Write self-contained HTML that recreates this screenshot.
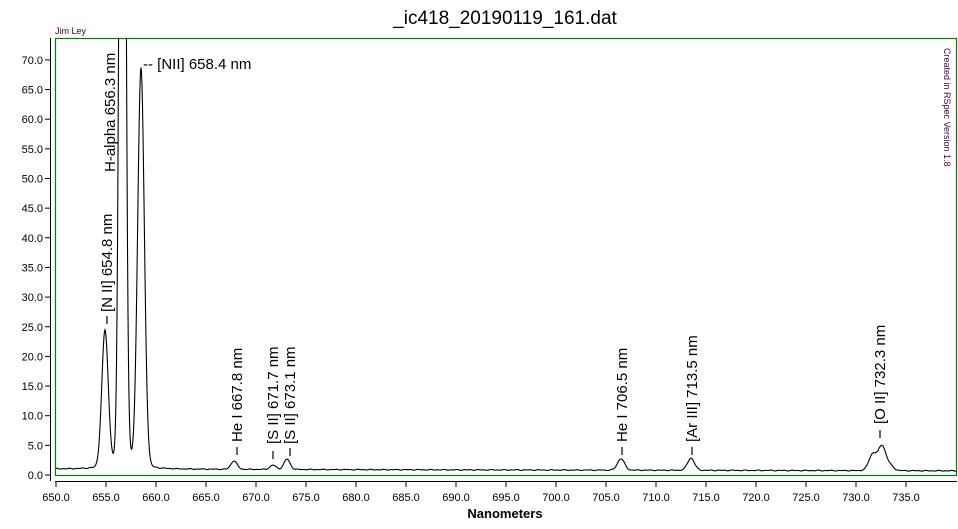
<!DOCTYPE html>
<html><head><meta charset="utf-8"><style>
body{margin:0;background:#fff;}
svg text{font-family:"Liberation Sans",Arial,sans-serif;}
</style></head><body>
<svg id="s" width="958" height="524" xmlns="http://www.w3.org/2000/svg">
<defs><clipPath id="c"><rect x="55" y="38" width="901" height="437"/></clipPath></defs>
<text x="505" y="24" font-size="19" text-anchor="middle" fill="#000">_ic418_20190119_161.dat</text>
<text x="55" y="34" font-size="9" fill="#400040">Jim Ley</text>
<rect x="55.5" y="38.5" width="901" height="437" fill="none" stroke="#008000" stroke-width="1.2"/>
<line x1="50.5" y1="38" x2="50.5" y2="481" stroke="#000"/>
<line x1="55" y1="481.5" x2="957" y2="481.5" stroke="#000"/>
<g id="yt" font-size="11" text-anchor="end"></g>
<g id="xt" font-size="11" text-anchor="middle"></g>
<text x="505" y="518" font-size="13" font-weight="bold" text-anchor="middle">Nanometers</text>
<text transform="translate(944,48) rotate(90)" font-size="9" fill="#400040">Created in RSpec Version 1.8</text>
<path id="sp" clip-path="url(#c)" fill="none" stroke="#000" stroke-width="1.1"/>
<g font-size="15" fill="#000">
<text transform="translate(112,312) rotate(-90)">[N II] 654.8 nm</text>
<text transform="translate(115,172) rotate(-90)">H-alpha 656.3 nm</text>
<text x="143" y="69">-- [NII] 658.4 nm</text>
<text transform="translate(242,442) rotate(-90)">He I 667.8 nm</text>
<text transform="translate(278,444) rotate(-90)">[S II] 671.7 nm</text>
<text transform="translate(295,444) rotate(-90)">[S II] 673.1 nm</text>
<text transform="translate(627,442) rotate(-90)">He I 706.5 nm</text>
<text transform="translate(697,442) rotate(-90)">[Ar III] 713.5 nm</text>
<text transform="translate(885,424) rotate(-90)">[O II] 732.3 nm</text>
</g>
<g stroke="#000" stroke-width="1.2">
<line x1="107" y1="316" x2="107" y2="324"/>
<line x1="237" y1="447" x2="237" y2="455"/>
<line x1="273" y1="451" x2="273" y2="459"/>
<line x1="290" y1="448" x2="290" y2="456"/>
<line x1="622" y1="447" x2="622" y2="455"/>
<line x1="692" y1="447" x2="692" y2="455"/>
<line x1="880" y1="430" x2="880" y2="438"/>
</g>
</svg>
<script>
function X(n){return 56+(n-650)*10;}function Y(v){return 475-v*5.93;}
var yt=document.getElementById('yt'),xt=document.getElementById('xt'),s="";
for(var v=0;v<=70;v+=5){s+='<line x1="45" x2="50" y1="'+Y(v)+'" y2="'+Y(v)+'" stroke="#000"/><text x="43" y="'+(Y(v)+4)+'">'+v.toFixed(1)+'</text>';}
yt.innerHTML=s;s="";
for(var n=650;n<=735;n+=5){s+='<line x1="'+X(n)+'" x2="'+X(n)+'" y1="481" y2="487" stroke="#000"/><text x="'+X(n)+'" y="501">'+n.toFixed(1)+'</text>';}
xt.innerHTML=s;
var P=[[654.9,22.5,0.32],[656.65,220,0.26],[658.5,66,0.33],[667.8,1.4,0.3],[671.7,0.7,0.3],[673.1,1.7,0.3],[706.5,1.9,0.35],[713.5,2.0,0.35],[731.7,2.8,0.4],[732.6,3.8,0.35],[733.3,1.0,0.4]];
var d="";
for(var x=56;x<=956;x+=0.5){var n=650+(x-56)/10;var v=1.0-0.3*(n-650)/90;
for(var i=0;i<P.length;i++){var q=P[i],dd=n-q[0];v+=q[1]*Math.exp(-dd*dd/(2*q[2]*q[2]))+q[1]*0.02/(1+(dd/0.6)*(dd/0.6));}
v+=0.08*Math.sin(n*7.3)*Math.sin(n*2.1);
d+=(d?"L":"M")+x.toFixed(1)+" "+Y(v).toFixed(1);}
document.getElementById('sp').setAttribute('d',d);
</script>
</body></html>
